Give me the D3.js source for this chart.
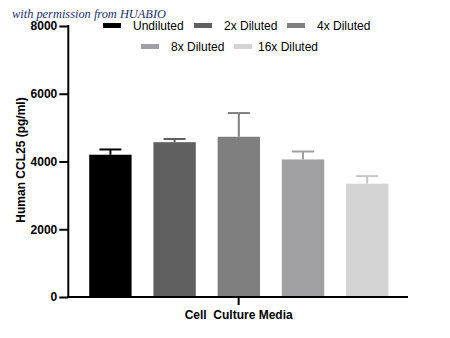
<!DOCTYPE html>
<html>
<head>
<meta charset="utf-8">
<script src="https://cdn.jsdelivr.net/npm/d3@7"></script>
<style>
  html, body { margin: 0; padding: 0; background: #fff; }
  svg { display: block; }
</style>
</head>
<body>
<svg id="chart" width="450" height="338"></svg>
<script>
const series = ["Undiluted", "2x Diluted", "4x Diluted", "8x Diluted", "16x Diluted"];
const values = [4200, 4570, 4730, 4060, 3345];
const errors = [155, 95, 700, 235, 225];
const colors = ["#000000", "#5f5f5f", "#7f7f7f", "#a0a0a4", "#d4d4d4"];
const yTicks = [0, 2000, 4000, 6000, 8000];
const xCategory = "Cell  Culture Media";
const yTitle = "Human CCL25 (pg/ml)";
const watermark = "with permission from HUABIO";

const svg = d3.select("#chart");
const font = "'Liberation Sans', Arial, sans-serif";

const y = d3.scaleLinear().domain([0, 8000]).range([297, 26]);
const x = d3.scaleBand().domain(series).range([78.3, 399.3]).paddingInner(0.34).paddingOuter(0.17);
const axisX0 = 68.3, axisX1 = 408;

// bars
svg.append("g").selectAll("rect").data(series).join("rect")
  .attr("x", d => x(d))
  .attr("width", x.bandwidth())
  .attr("y", (d, i) => y(values[i]))
  .attr("height", (d, i) => y(0) - y(values[i]))
  .attr("fill", (d, i) => colors[i]);

// error bars
const eg = svg.append("g");
series.forEach((d, i) => {
  const cx = x(d) + x.bandwidth() / 2;
  const c = i === 0 ? "#000" : colors[i] === "#d4d4d4" ? "#c8c8c8" : colors[i];
  eg.append("line").attr("x1", cx).attr("x2", cx)
    .attr("y1", y(values[i])).attr("y2", y(values[i] + errors[i]))
    .attr("stroke", c).attr("stroke-width", 2);
  eg.append("line").attr("x1", cx - 11).attr("x2", cx + 11)
    .attr("y1", y(values[i] + errors[i])).attr("y2", y(values[i] + errors[i]))
    .attr("stroke", c).attr("stroke-width", 2);
});

// y axis
const yAxis = d3.axisLeft(y).tickValues(yTicks).tickSize(9).tickPadding(2).tickFormat(d3.format("d"));
const yg = svg.append("g").attr("transform", `translate(${axisX0},0)`).call(yAxis);
yg.select(".domain").remove();
yg.append("line").attr("x1", 0).attr("x2", 0).attr("y1", y(8000) - 1).attr("y2", y(0) + 1)
  .attr("stroke", "#000").attr("stroke-width", 2);
yg.selectAll(".tick line").attr("stroke", "#000").attr("stroke-width", 2);
yg.selectAll(".tick text").attr("font-family", font).attr("font-size", 12)
  .attr("font-weight", "bold").attr("fill", "#000");

// x axis
const xs = d3.scalePoint().domain([xCategory]).range([axisX0, axisX1]).padding(0.5);
const xAxis = d3.axisBottom(xs).tickSize(8).tickPadding(5);
const xg = svg.append("g").attr("transform", `translate(0,${y(0)})`).call(xAxis);
xg.select(".domain").remove();
xg.append("line").attr("x1", axisX0 - 1).attr("x2", axisX1).attr("y1", 0).attr("y2", 0)
  .attr("stroke", "#000").attr("stroke-width", 2);
xg.selectAll(".tick line").attr("stroke", "#000").attr("stroke-width", 2);
xg.selectAll(".tick text").attr("font-family", font).attr("font-size", 12)
  .attr("font-weight", "bold").attr("fill", "#000").style("white-space", "pre");

// y title
svg.append("text")
  .attr("transform", `translate(25,160) rotate(-90)`)
  .attr("text-anchor", "middle")
  .attr("font-family", font).attr("font-size", 12).attr("font-weight", "bold")
  .attr("fill", "#000")
  .text(yTitle);

// legend
const legendPos = [
  {sx: 103, ty: 30}, {sx: 194, ty: 30}, {sx: 287, ty: 30},
  {sx: 141, ty: 51}, {sx: 234, ty: 51}
];
const lg = svg.append("g");
series.forEach((d, i) => {
  const p = legendPos[i];
  lg.append("rect").attr("x", p.sx).attr("y", p.ty - 7).attr("width", 18).attr("height", 5)
    .attr("fill", colors[i]);
  lg.append("text").attr("x", p.sx + (i === 4 ? 24 : 30)).attr("y", p.ty)
    .attr("font-family", font).attr("font-size", 12).attr("fill", "#000").text(d);
});

// watermark
svg.append("text")
  .attr("x", 12).attr("y", 18)
  .attr("font-family", "'Liberation Serif', 'DejaVu Serif', serif")
  .attr("font-style", "italic").attr("font-size", 12)
  .attr("fill", "#1c2f6e")
  .attr("textLength", 154).attr("lengthAdjust", "spacingAndGlyphs")
  .text(watermark);
</script>
</body>
</html>
